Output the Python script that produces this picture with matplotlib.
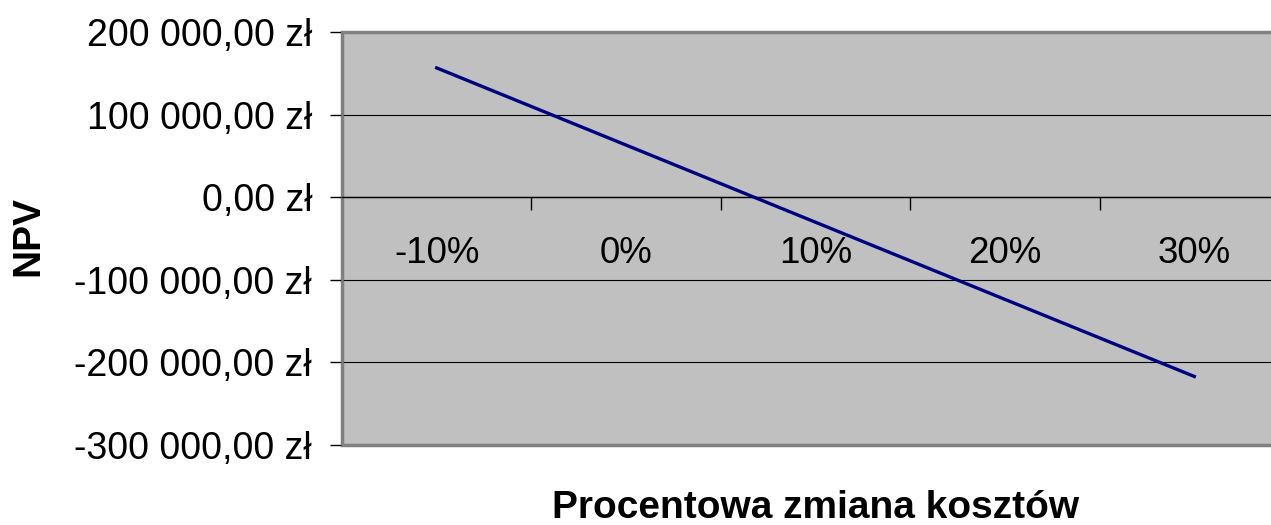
import matplotlib.pyplot as plt
from matplotlib.ticker import FuncFormatter, FixedLocator

# sensitivity of NPV to a percentage change in costs
categories = ['-10%', '0%', '10%', '20%', '30%']
npv = [156500, 63100, -30300, -123700, -217000]
y_ticks = [-300000, -200000, -100000, 0, 100000, 200000]


def pln(v, pos=None):
    s = f"{v:,.2f}".replace(",", " ").replace(".", ",")
    return s + " zł"


plt.rcParams['font.family'] = ['Liberation Sans', 'DejaVu Sans']

fig = plt.figure(figsize=(12.71, 5.25), dpi=100)
ax = fig.add_axes([342 / 1271, 1 - 445 / 525, 947 / 1271, 413 / 525])

x = range(len(categories))
ax.plot(x, npv, color='#000080', linewidth=2.4, zorder=3, clip_on=False)

ax.set_xlim(-0.5, len(categories) - 0.5)
ax.set_ylim(y_ticks[0], y_ticks[-1])

ax.set_facecolor('#C0C0C0')
ax.patch.set_edgecolor('#808080')
ax.patch.set_linewidth(2.5)

ax.spines['top'].set_color('#808080')
ax.spines['top'].set_linewidth(2)
ax.spines['right'].set_visible(False)
ax.spines['left'].set_color('#808080')
ax.spines['left'].set_linewidth(1.8)
ax.spines['bottom'].set_position(('data', 0))
ax.spines['bottom'].set_color('black')
ax.spines['bottom'].set_linewidth(1)

ax.set_yticks(y_ticks)
ax.yaxis.set_major_formatter(FuncFormatter(pln))
ax.tick_params(axis='y', direction='out', length=8.6, width=1, pad=13,
               labelsize=27, colors='black')
ax.grid(axis='y', color='black', linewidth=0.8)
ax.set_axisbelow(True)
grid = ax.yaxis.get_gridlines()
grid[0].set_visible(False)   # bottom edge is the plot-area border
grid[-1].set_visible(False)

ax.set_xticks(list(x))
ax.set_xticklabels(categories)
ax.xaxis.set_minor_locator(FixedLocator([i + 0.5 for i in range(len(categories) - 1)]))
ax.tick_params(axis='x', which='major', length=0, pad=28, labelsize=26.5)
ax.tick_params(axis='x', which='minor', direction='out', length=9, width=1, color='black')

fig.text(28 / 1271, 1 - 236 / 525, 'NPV', rotation=90, fontsize=28,
         fontweight='bold', ha='center', va='center')
fig.text(816 / 1271, 1 - 508 / 525, 'Procentowa zmiana kosztów', fontsize=28,
         fontweight='bold', ha='center', va='center')

fig.savefig('out.png', dpi=100, facecolor='white')
